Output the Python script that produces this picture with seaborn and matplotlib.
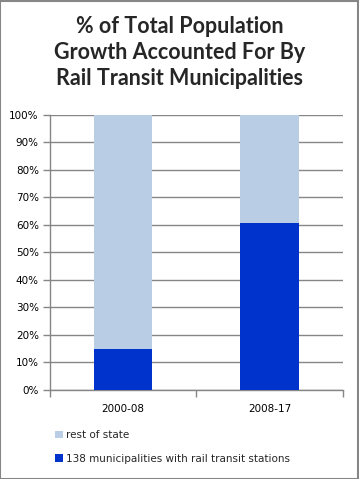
import matplotlib
matplotlib.use('Agg')
import matplotlib.pyplot as plt
import seaborn as sns
import pandas as pd
from matplotlib.patches import Patch, Rectangle
from matplotlib.ticker import PercentFormatter, FixedLocator

# Data
periods = ['2000-08', '2008-17']
rail_share = [14.7, 60.7]
total = [100, 100]
series_names = ['rest of state', '138 municipalities with rail transit stations']
colors = ['#B9CDE5', '#0033CC']

df = pd.DataFrame({'period': periods, 'rail': rail_share, 'total': total})

sns.set_style('white')
plt.rcParams['font.family'] = ['DejaVu Sans']

fig = plt.figure(figsize=(3.59, 4.79), dpi=100)
ax = fig.add_axes([0.139, 0.186, 0.816, 0.574])

# stacked bars: full height in light blue, rail share drawn on top
sns.barplot(data=df, x='period', y='total', color=colors[0], width=0.4,
            saturation=1, linewidth=0, ax=ax, zorder=2)
sns.barplot(data=df, x='period', y='rail', color=colors[1], width=0.4,
            saturation=1, linewidth=0, ax=ax, zorder=3)

ax.set_ylim(0, 100)
ax.set_xlim(-0.5, 1.5)
ax.set_yticks(range(0, 101, 10))
ax.yaxis.set_major_formatter(PercentFormatter(decimals=0))
ax.yaxis.grid(True, color='#868686', linewidth=1, zorder=0)
ax.set_axisbelow(True)
ax.set_xlabel('')
ax.set_ylabel('')

for side in ['top', 'right']:
    ax.spines[side].set_visible(False)
for side in ['left', 'bottom']:
    ax.spines[side].set_color('#868686')
    ax.spines[side].set_linewidth(1)

ax.tick_params(axis='y', which='major', length=5, width=1, color='#868686',
               labelsize=7.5, labelcolor='black', pad=3, left=True)
ax.tick_params(axis='x', which='major', length=0, labelsize=7.5,
               labelcolor='black', pad=10)
ax.xaxis.set_minor_locator(FixedLocator([-0.5, 0.5, 1.5]))
ax.tick_params(axis='x', which='minor', length=5, width=1, color='#868686',
               bottom=True)

fig.text(0.5, 0.891, '% of Total Population\nGrowth Accounted For By\nRail Transit Municipalities',
         ha='center', va='center', fontsize=15.5, fontweight='bold',
         family='Lato', linespacing=1.3)

handles = [Patch(facecolor=c, edgecolor='none') for c in colors]
fig.legend(handles, series_names, loc='center left', bbox_to_anchor=(0.14, 0.067),
           frameon=False, fontsize=7.5, handlelength=0.75, handleheight=0.75,
           handletextpad=0.3, labelspacing=1.3, borderpad=0)

fig.patches.append(Rectangle((0.001, 0.001), 0.997, 0.997, transform=fig.transFigure,
                             fill=False, edgecolor='#868686', linewidth=1.5))

plt.savefig('out.png', dpi=100)
